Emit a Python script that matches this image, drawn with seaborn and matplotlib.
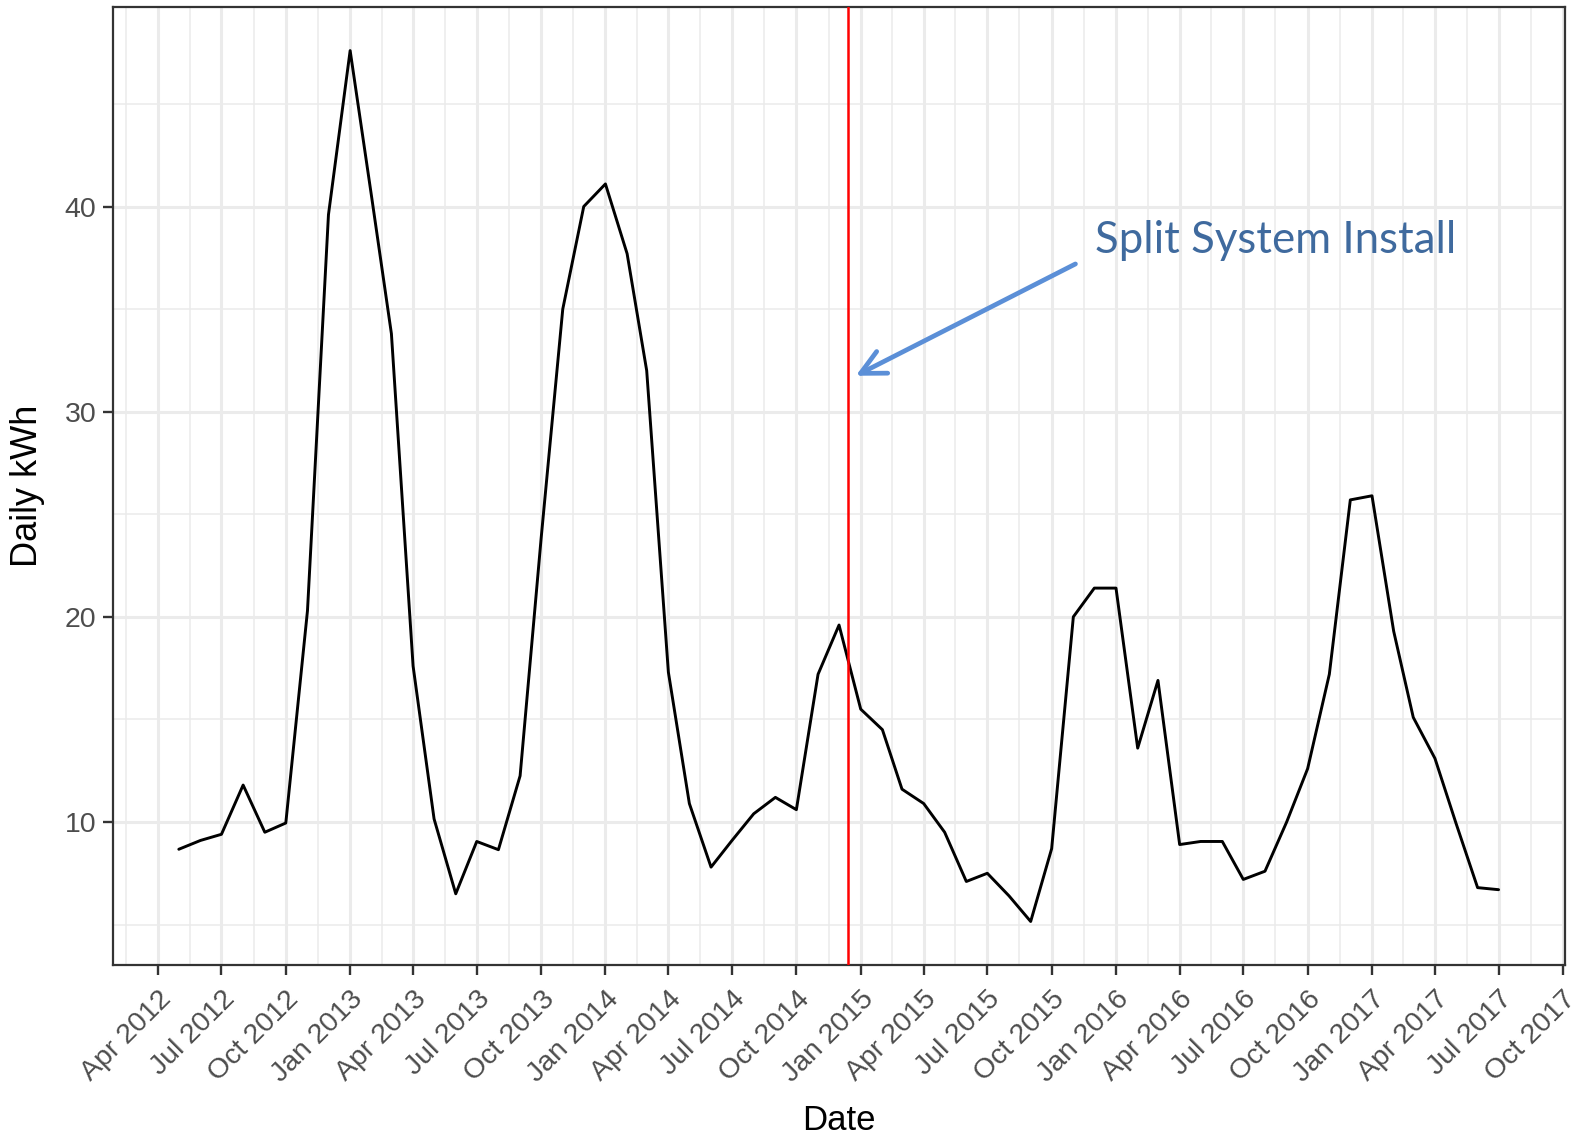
import numpy as np
import pandas as pd
import matplotlib
matplotlib.use("Agg")
import matplotlib.pyplot as plt
import matplotlib.dates as mdates
from matplotlib.ticker import MultipleLocator, FixedLocator
import seaborn as sns

# Monthly average daily consumption, May 2012 - Jul 2017
months = pd.date_range("2012-05-01", "2017-07-01", freq="MS")
kwh = [8.67, 9.1, 9.4, 11.8, 9.5, 9.95, 20.3, 39.6,
       47.6, 40.4, 33.8, 17.6, 10.15, 6.5, 9.05, 8.65, 12.25, 23.8, 35.0, 40.0,
       41.1, 37.7, 32.0, 17.3, 10.9, 7.8, 9.1, 10.4, 11.2, 10.6, 17.2, 19.6,
       15.5, 14.5, 11.6, 10.9, 9.5, 7.1, 7.5, 6.4, 5.15, 8.7, 20.0, 21.4,
       21.4, 13.6, 16.9, 8.9, 9.05, 9.05, 7.2, 7.6, 10.0, 12.6, 17.2, 25.7,
       25.9, 19.3, 15.1, 13.1, 9.95, 6.8, 6.7]
install_date = pd.Timestamp("2014-12-14")
label_text = "Split System Install"
label_pos = (pd.Timestamp("2015-12-02"), 38.35)
arrow_start = (pd.Timestamp("2015-11-04"), 37.2)
arrow_end = (pd.Timestamp("2014-12-25"), 31.75)

df = pd.DataFrame({"Date": months, "kwh": kwh})

sns.set_theme(style="ticks")
plt.rcParams["font.family"] = ["Liberation Sans", "DejaVu Sans"]

fig = plt.figure(figsize=(15.81, 11.36), dpi=100)
ax = fig.add_axes([0.0715, 0.1505, 0.9184, 0.8433])

sns.lineplot(data=df, x="Date", y="kwh", color="black", lw=2.1, ax=ax, zorder=3)
ax.axvline(install_date, color="red", lw=1.8, zorder=4)
ax.margins(x=0.05, y=0.05)

# ggplot style breaks: quarterly majors, minors halfway between
majors = pd.date_range("2012-01-01", "2017-10-01", freq="QS")
major_num = mdates.date2num(majors)
minor_num = (major_num[:-1] + major_num[1:]) / 2
ax.xaxis.set_major_locator(FixedLocator(major_num))
ax.xaxis.set_minor_locator(FixedLocator(minor_num))
ax.xaxis.set_major_formatter(mdates.DateFormatter("%b %Y"))
ax.yaxis.set_major_locator(MultipleLocator(10))
ax.yaxis.set_minor_locator(MultipleLocator(5))
ax.set_xlim(mdates.date2num(pd.Timestamp("2012-01-28")), mdates.date2num(pd.Timestamp("2017-10-04")))

ax.grid(which="major", color="#EBEBEB", lw=2.2, zorder=0)
ax.grid(which="minor", color="#EBEBEB", lw=1.1, zorder=0)
ax.set_axisbelow(True)
for s in ax.spines.values():
    s.set_color("#333333")
    s.set_linewidth(1.6)
ax.tick_params(which="major", length=7, width=1.7, color="#333333",
               labelsize=20.5, labelcolor="#4D4D4D", direction="out")
ax.tick_params(axis="y", pad=5)
ax.tick_params(axis="x", pad=8)
ax.tick_params(which="minor", length=0)
for lab in ax.get_xticklabels():
    lab.set_rotation(45)
    lab.set_ha("right")
    lab.set_va("top")
    lab.set_rotation_mode("anchor")

ax.set_xlabel("Date", fontsize=25, color="black", labelpad=12)
ax.set_ylabel("Daily kWh", fontsize=26, color="black", labelpad=14)

ax.annotate("", xy=arrow_end, xytext=arrow_start,
            arrowprops=dict(arrowstyle="->,head_length=0.7,head_width=0.35",
                            color="#5B8FD7", lw=3.4, mutation_scale=25,
                            shrinkA=0, shrinkB=0), zorder=5)
ax.text(label_pos[0], label_pos[1], label_text, fontsize=31.5, color="#3F6A9E",
        family=["Lato", "DejaVu Sans"], ha="left", va="center", zorder=5)

fig.savefig("out.png", dpi=100, facecolor="white")
